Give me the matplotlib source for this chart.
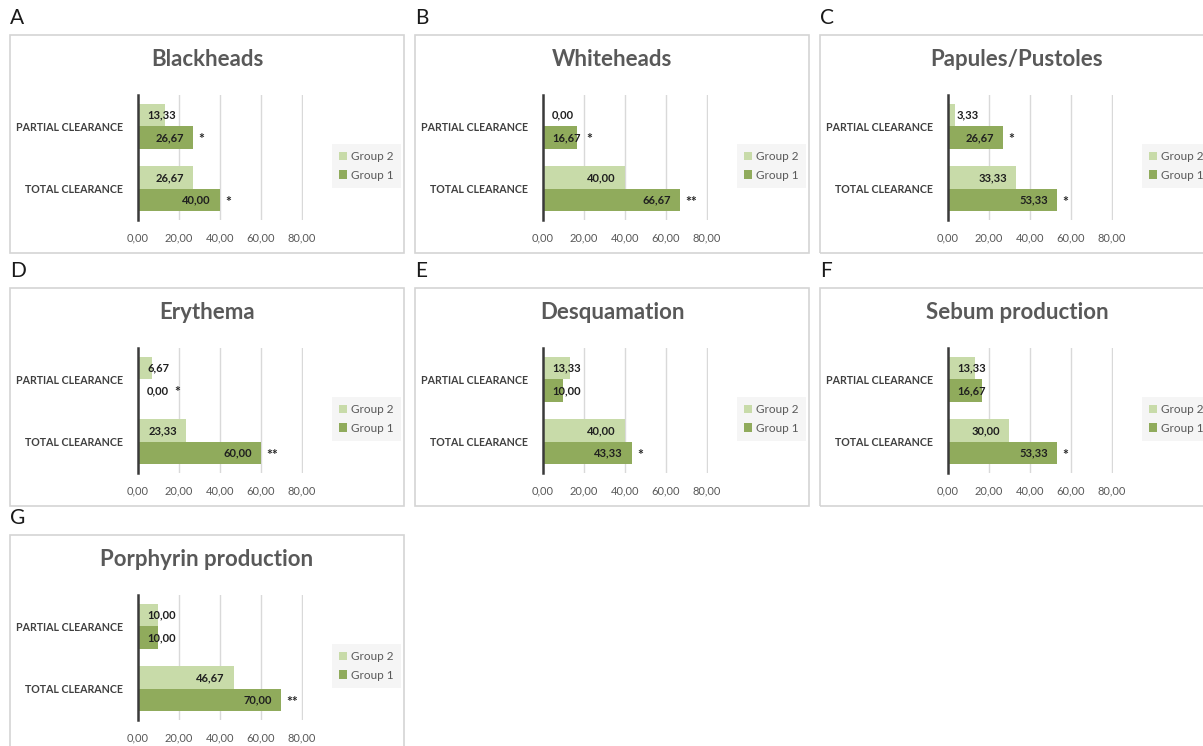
import numpy as np
import matplotlib
matplotlib.use("Agg")
import matplotlib.pyplot as plt
from matplotlib.patches import Rectangle

plt.rcParams["font.family"] = ["Lato", "DejaVu Sans"]

# clearance rates (%) per parameter
titles = ["Blackheads", "Whiteheads", "Papules/Pustoles", "Erythema",
          "Desquamation", "Sebum production", "Porphyrin production"]
letters = ["A", "B", "C", "D", "E", "F", "G"]
categories = ["TOTAL CLEARANCE", "PARTIAL CLEARANCE"]
group1_total = [40.00, 66.67, 53.33, 60.00, 43.33, 53.33, 70.00]
group1_partial = [26.67, 16.67, 26.67, 0.00, 10.00, 16.67, 10.00]
group2_total = [26.67, 40.00, 33.33, 23.33, 40.00, 30.00, 46.67]
group2_partial = [13.33, 0.00, 3.33, 6.67, 13.33, 13.33, 10.00]
stars_total = ["*", "**", "*", "**", "*", "*", "**"]
stars_partial = ["*", "*", "*", "*", "", "", ""]
xticks = [0, 20, 40, 60, 80]

c_g1 = "#90ab5c"
c_g2 = "#c8dba9"
grey = "#595959"

W, H = 1203, 746
fig = plt.figure(figsize=(W / 100, H / 100), dpi=100)
renderer = fig.canvas.get_renderer()

box_lefts = [10, 415, 820]
box_tops = [35, 288, 535]
box_w, box_h = 394, 218


def fig_rect(l, t, w, h):
    return [l / W, 1 - (t + h) / H, w / W, h / H]


def fmt(v):
    return f"{v:.2f}".replace(".", ",")


bar_h = 0.36
ypos = np.array([0, 1])

for i, title in enumerate(titles):
    bl = box_lefts[i % 3]
    bt = box_tops[i // 3]

    fig.add_artist(Rectangle((bl / W, 1 - (bt + box_h) / H), box_w / W, box_h / H,
                             transform=fig.transFigure, fill=False,
                             ec="#d4d4d4", lw=1.2))
    fig.text(bl / W, 1 - (bt - 17) / H, letters[i], fontsize=15,
             ha="left", va="center", color="#1a1a1a")
    fig.text((bl + box_w / 2) / W, 1 - (bt + 25) / H, title, fontsize=16,
             fontweight="bold", ha="center", va="center", color=grey)

    ax_w = 165
    ax = fig.add_axes(fig_rect(bl + 128, bt + 60, ax_w, 125))
    g1 = [group1_total[i], group1_partial[i]]
    g2 = [group2_total[i], group2_partial[i]]
    b2 = ax.barh(ypos + bar_h / 2, g2, height=bar_h, color=c_g2, zorder=2)
    b1 = ax.barh(ypos - bar_h / 2, g1, height=bar_h, color=c_g1, zorder=2)

    ax.set_xlim(0, 80.5)
    ax.set_ylim(-0.5, 1.5)
    ax.set_xticks(xticks, [fmt(v) for v in xticks])
    ax.set_yticks(ypos, categories)
    ax.tick_params(axis="x", length=0, pad=9, labelsize=8, labelcolor=grey)
    ax.tick_params(axis="y", length=0, pad=11, labelsize=7.7, labelcolor="#404040")
    for lab in ax.get_yticklabels():
        lab.set_fontweight("bold")
    ax.grid(axis="x", color="#d9d9d9", lw=1, zorder=0)
    for s in ["top", "right", "bottom"]:
        ax.spines[s].set_visible(False)
    ax.spines["left"].set_color("#3a3a3a")
    ax.spines["left"].set_linewidth(1.8)
    ax.spines["left"].set_zorder(3)

    # value labels at the inside end, stars after the bar
    px_per_unit = ax_w / 80.5
    pad = 4.4
    vals = [(g2, ypos + bar_h / 2, ["", ""]),
            (g1, ypos - bar_h / 2, [stars_total[i], stars_partial[i]])]
    for values, ys, stars in vals:
        for v, y, st in zip(values, ys, stars):
            t = ax.text(v - pad, y, fmt(v), ha="right", va="center",
                        fontsize=8, fontweight="bold", color="#1f1f1f", zorder=4)
            wdata = t.get_window_extent(renderer).width / px_per_unit
            if v - pad - wdata < pad:
                t.set_x(pad)
                t.set_ha("left")
                right = pad + wdata
            else:
                right = v - pad
            if st:
                ax.text(max(v, right) + 2.6, y - 0.03, st, ha="left", va="center",
                        fontsize=10, fontweight="bold", color="#262626", zorder=4)

    ax.legend([b2, b1], ["Group 2", "Group 1"], loc="center left",
              bbox_to_anchor=((bl + 322) / W, 1 - (bt + 131) / H),
              bbox_transform=fig.transFigure, frameon=True,
              facecolor="#f3f3f3", edgecolor="none", fancybox=False,
              fontsize=8.5, labelcolor=grey, handlelength=0.7, handleheight=0.7,
              handletextpad=0.35, borderpad=0.6, labelspacing=0.6,
              borderaxespad=0)

fig.savefig("out.png", dpi=100, facecolor="white")
